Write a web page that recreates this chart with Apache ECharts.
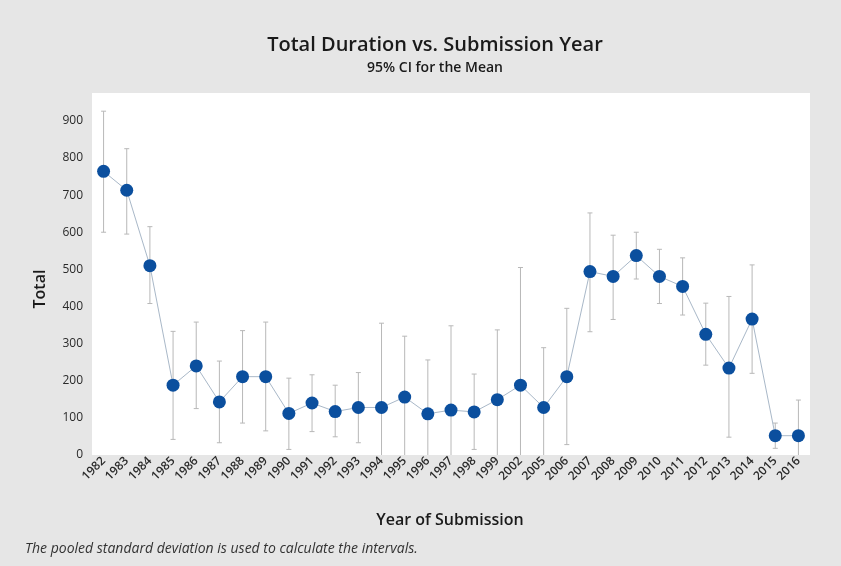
<!DOCTYPE html>
<html>
<head>
<meta charset="utf-8">
<script src="https://cdn.jsdelivr.net/npm/echarts@6/dist/echarts.min.js"></script>
<style>html,body{margin:0;padding:0;background:#e6e6e6}#c{width:841px;height:566px}</style>
</head>
<body>
<div id="c"></div>
<script>
const years = ['1982','1983','1984','1985','1986','1987','1988','1989','1990','1991','1992','1993','1994','1995','1996','1997','1998','1999','2002','2005','2006','2007','2008','2009','2010','2011','2012','2013','2014','2015','2016'];
const means = [764,713,510,188,240,143,211,211,112,140,117,128,128,156,111,121,116,149,188,128,211,494,481,537,481,454,325,234,366,52,52];
const upper = [926,825,615,333,358,253,335,358,207,216,188,222,355,320,256,348,218,337,505,289,395,652,592,600,554,531,409,427,512,86,148];
const lower = [600,595,408,42,125,33,86,65,15,63,49,33,-100,-8,-35,-105,15,-40,-130,-33,28,332,365,474,408,377,242,48,220,18,-44];

const font = 'Open Sans';
const chart = echarts.init(document.getElementById('c'));
chart.setOption({
  backgroundColor: '#e6e6e6',
  animation: false,
  textStyle: { fontFamily: font },
  title: [
    { text: 'Total Duration vs. Submission Year', left: 430, top: 30, textAlign: 'center',
      textStyle: { fontSize: 20, fontWeight: 600, color: '#1a1a1a', fontFamily: font } },
    { text: '95% CI for the Mean', left: 430, top: 56, textAlign: 'center',
      textStyle: { fontSize: 14, fontWeight: 600, color: '#1a1a1a', fontFamily: font } }
  ],
  grid: { left: 92, right: 31, top: 93, bottom: 111, show: true, backgroundColor: '#ffffff', borderWidth: 0 },
  xAxis: {
    type: 'category', data: years, boundaryGap: true,
    axisLine: { show: false }, axisTick: { show: false },
    axisLabel: { rotate: 45, fontSize: 12, color: '#2a2a2a', margin: 4, interval: 0, fontWeight: 600 }
  },
  yAxis: {
    type: 'value', min: 0, max: 975, interval: 100,
    axisLine: { show: false }, axisTick: { show: false }, splitLine: { show: false },
    axisLabel: { fontSize: 12, color: '#2a2a2a', margin: 9, showMaxLabel: false, fontWeight: 500 }
  },
  series: [
    {
      type: 'custom', clip: true, z: 1,
      data: years.map((y, i) => [i, lower[i], upper[i]]),
      encode: { x: 0, y: [1, 2] },
      renderItem: function (params, api) {
        const lo = api.coord([api.value(0), api.value(1)]);
        const hi = api.coord([api.value(0), api.value(2)]);
        const w = 2.5;
        const st = { stroke: '#b8b8b8', lineWidth: 1 };
        return { type: 'group', children: [
          { type: 'line', shape: { x1: hi[0], y1: hi[1], x2: lo[0], y2: lo[1] }, style: st },
          { type: 'line', shape: { x1: hi[0] - w, y1: hi[1], x2: hi[0] + w, y2: hi[1] }, style: st },
          { type: 'line', shape: { x1: lo[0] - w, y1: lo[1], x2: lo[0] + w, y2: lo[1] }, style: st }
        ]};
      }
    },
    {
      type: 'line', data: means, z: 2,
      symbol: 'circle', symbolSize: 13,
      lineStyle: { color: '#a9b8c8', width: 1 },
      itemStyle: { color: '#0b4f9e' }
    }
  ],
  graphic: [
    { type: 'text', x: 40, y: 289, rotation: Math.PI / 2,
      style: { text: 'Total', fontSize: 16, fontWeight: 600, fill: '#1a1a1a', fontFamily: font, align: 'center', verticalAlign: 'middle' } },
    { type: 'text', x: 450, y: 520,
      style: { text: 'Year of Submission', fontSize: 16, fontWeight: 600, fill: '#1a1a1a', fontFamily: font, align: 'center', verticalAlign: 'middle' } },
    { type: 'text', x: 25, y: 549,
      style: { text: 'The pooled standard deviation is used to calculate the intervals.', fontSize: 14, fontStyle: 'italic', fill: '#333', fontFamily: font, verticalAlign: 'middle' } }
  ]
});
</script>
</body>
</html>
